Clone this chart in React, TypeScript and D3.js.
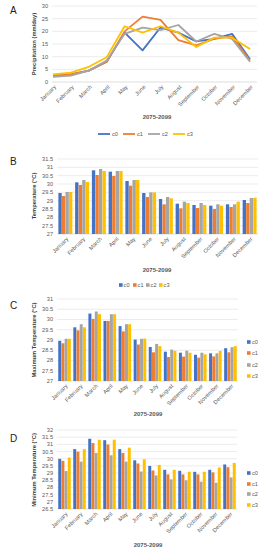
import React, { useEffect, useRef } from 'react';
import * as d3 from 'd3';

const months = ['January', 'February', 'March', 'April', 'May', 'June', 'July', 'August', 'September', 'October', 'November', 'December'];
const seriesNames = ['c0', 'c1', 'c2', 'c3'];
const seriesColors = ['#4472C4', '#ED7D31', '#A5A5A5', '#FFC000'];

// A: precipitation (mm/day)
const precipC0 = [2.5, 3, 4.5, 8, 19.5, 12.5, 21.5, 19.5, 16, 17, 19, 9];
const precipC1 = [2.5, 3, 4.5, 8, 20, 25.8, 24.5, 16.5, 14.5, 17, 18, 8.5];
const precipC2 = [2, 2.5, 4.5, 8.5, 19, 21.5, 20.5, 22.5, 16, 19, 17, 8];
const precipC3 = [3, 3.7, 6, 9.8, 22, 19.5, 22, 19.5, 13.8, 17.5, 17.5, 13];

// B: mean temperature
const tempC0 = [29.46, 30.1, 30.82, 30.74, 30.18, 29.46, 29.1, 28.82, 28.74, 28.7, 28.78, 29.04];
const tempC1 = [29.28, 29.94, 30.54, 30.48, 29.9, 29.22, 28.78, 28.54, 28.56, 28.5, 28.62, 28.86];
const tempC2 = [29.52, 30.24, 30.9, 30.78, 30.24, 29.5, 29.22, 28.94, 28.86, 28.78, 28.78, 29.16];
const tempC3 = [29.52, 30.12, 30.78, 30.78, 30.24, 29.5, 29.14, 28.86, 28.74, 28.7, 28.94, 29.18];

// C: maximum temperature
const maxC0 = [28.96, 29.62, 30.29, 29.93, 29.68, 29.02, 28.66, 28.43, 28.38, 28.28, 28.35, 28.6];
const maxC1 = [28.84, 29.47, 30.03, 29.93, 29.42, 28.78, 28.4, 28.17, 28.19, 28.14, 28.2, 28.4];
const maxC2 = [29.06, 29.77, 30.39, 30.26, 29.77, 29.06, 28.81, 28.53, 28.48, 28.38, 28.35, 28.65];
const maxC3 = [29.06, 29.62, 30.26, 30.26, 29.77, 29.07, 28.7, 28.47, 28.38, 28.3, 28.47, 28.7];

// D: minimum temperature
const minC0 = [29.99, 30.67, 31.39, 31.29, 30.67, 29.89, 29.5, 29.23, 29.16, 29.09, 29.23, 29.6];
const minC1 = [29.85, 30.49, 31.09, 30.99, 30.4, 29.67, 29.18, 28.91, 28.91, 28.91, 29.05, 29.41];
const minC2 = [29.14, 29.8, 30.4, 30.24, 29.8, 29.11, 28.84, 28.56, 28.5, 28.4, 28.33, 28.7];
const minC3 = [30.08, 30.67, 31.32, 31.32, 30.77, 29.96, 29.57, 29.23, 29.09, 29.09, 29.39, 29.71];

const periodLabel = '2075-2099';
const FONT = "'Liberation Sans', Arial, sans-serif";
const TXT = '#595959';

interface Panel {
  letter: string;
  letterY: number;
  kind: 'line' | 'bar';
  left: number;
  right: number;
  top: number;
  bottom: number;
  yMin: number;
  yMax: number;
  yStep: number;
  yTitle: string;
  yTitleMid: number;
  xTitle: [number, number];
  legend: 'lineRow' | 'boxRow' | 'boxCol';
  legendPos: number[];
  legendAt: number;
  data: number[][];
}

const panels: Panel[] = [
  {
    letter: 'A', letterY: 14, kind: 'line', left: 53, right: 250, top: 6, bottom: 82,
    yMin: 0, yMax: 30, yStep: 5, yTitle: 'Precipitation (mm/day)', yTitleMid: 44,
    xTitle: [157, 119], legend: 'lineRow', legendPos: [98, 123, 148, 173], legendAt: 134,
    data: [precipC0, precipC1, precipC2, precipC3],
  },
  {
    letter: 'B', letterY: 165, kind: 'bar', left: 57, right: 258, top: 159, bottom: 234,
    yMin: 27, yMax: 31.5, yStep: 0.5, yTitle: 'Temperature (°C)', yTitleMid: 196,
    xTitle: [157, 272], legend: 'boxRow', legendPos: [119, 133, 146, 159], legendAt: 285,
    data: [tempC0, tempC1, tempC2, tempC3],
  },
  {
    letter: 'C', letterY: 309, kind: 'bar', left: 57, right: 238, top: 299, bottom: 381,
    yMin: 27, yMax: 31, yStep: 0.5, yTitle: 'Maximum Temperature (°C)', yTitleMid: 340,
    xTitle: [148, 416], legend: 'boxCol', legendPos: [342, 353, 365, 376], legendAt: 247,
    data: [maxC0, maxC1, maxC2, maxC3],
  },
  {
    letter: 'D', letterY: 442, kind: 'bar', left: 57, right: 237, top: 430, bottom: 509,
    yMin: 26.5, yMax: 32, yStep: 0.5, yTitle: 'Minimum Temperature (°C)', yTitleMid: 470,
    xTitle: [148, 547], legend: 'boxCol', legendPos: [473, 484, 494, 505], legendAt: 247,
    data: [minC0, minC1, minC2, minC3],
  },
];

function drawPanel(svg: d3.Selection<SVGSVGElement, unknown, null, undefined>, p: Panel) {
  const g = svg.append('g').attr('font-family', FONT);
  const y = d3.scaleLinear().domain([p.yMin, p.yMax]).range([p.bottom, p.top]);
  const ticks = d3.range(p.yMin, p.yMax + p.yStep / 2, p.yStep);
  const gridRight = p.kind === 'line' ? 257 : p.right;
  const gridLeft = p.kind === 'line' ? 52 : p.left;

  g.selectAll('line.grid').data(ticks).enter().append('line')
    .attr('x1', gridLeft).attr('x2', gridRight)
    .attr('y1', d => y(d)).attr('y2', d => y(d))
    .attr('stroke', (d, i) => (i === 0 ? '#d0d0d0' : '#e4e4e4')).attr('stroke-width', 0.7);

  g.selectAll('text.ytick').data(ticks).enter().append('text')
    .attr('x', gridLeft - 4).attr('y', d => y(d)).attr('dy', '0.35em')
    .attr('text-anchor', 'end').attr('font-size', 5.6).attr('fill', TXT)
    .text(d => d3.format('~g')(d));

  let xc: (m: string) => number;
  if (p.kind === 'line') {
    const x = d3.scalePoint().domain(months).range([p.left, p.right]);
    xc = m => x(m)!;
    const line = d3.line<number>().x((d, i) => x(months[i])!).y(d => y(d));
    p.data.forEach((s, k) => {
      g.append('path').datum(s).attr('d', line).attr('fill', 'none')
        .attr('stroke', seriesColors[k]).attr('stroke-width', 1.8)
        .attr('stroke-linejoin', 'round');
    });
  } else {
    const x = d3.scaleBand().domain(months).range([p.left, p.right]).paddingInner(0.14).paddingOuter(0.07);
    const xs = d3.scaleBand().domain(seriesNames).range([0, x.bandwidth()]).padding(0.06);
    xc = m => x(m)! + x.bandwidth() / 2;
    months.forEach((m, i) => {
      p.data.forEach((s, k) => {
        g.append('rect')
          .attr('x', x(m)! + xs(seriesNames[k])!)
          .attr('y', y(s[i]))
          .attr('width', xs.bandwidth())
          .attr('height', y(p.yMin) - y(s[i]))
          .attr('fill', seriesColors[k]);
      });
    });
  }

  g.selectAll('text.xtick').data(months).enter().append('text')
    .attr('transform', d => `translate(${xc(d) + 2},${p.bottom + 4}) rotate(-45)`)
    .attr('text-anchor', 'end').attr('dy', '0.35em').attr('font-size', 5.6).attr('fill', TXT)
    .text(d => d);

  g.append('text')
    .attr('x', p.xTitle[0]).attr('y', p.xTitle[1])
    .attr('text-anchor', 'middle').attr('font-size', 6).attr('font-weight', 'bold').attr('fill', TXT)
    .text(periodLabel);

  g.append('text')
    .attr('transform', `translate(36,${p.yTitleMid}) rotate(-90)`)
    .attr('text-anchor', 'middle').attr('font-size', 5.8).attr('font-weight', 'bold').attr('fill', '#404040')
    .text(p.yTitle);

  g.append('text')
    .attr('x', 10).attr('y', p.letterY)
    .attr('font-size', 10).attr('fill', '#222')
    .text(p.letter);

  // legend
  seriesNames.forEach((name, k) => {
    if (p.legend === 'lineRow') {
      const lx = p.legendPos[k];
      g.append('line').attr('x1', lx).attr('x2', lx + 12)
        .attr('y1', p.legendAt).attr('y2', p.legendAt)
        .attr('stroke', seriesColors[k]).attr('stroke-width', 1.8);
      g.append('text').attr('x', lx + 14).attr('y', p.legendAt).attr('dy', '0.35em')
        .attr('font-size', 5.6).attr('fill', TXT).text(name);
    } else if (p.legend === 'boxRow') {
      const lx = p.legendPos[k];
      g.append('rect').attr('x', lx).attr('y', p.legendAt - 1.8).attr('width', 3.6).attr('height', 3.6)
        .attr('fill', seriesColors[k]);
      g.append('text').attr('x', lx + 4.6).attr('y', p.legendAt).attr('dy', '0.35em')
        .attr('font-size', 5.6).attr('fill', TXT).text(name);
    } else {
      const ly = p.legendPos[k];
      g.append('rect').attr('x', p.legendAt).attr('y', ly - 1.8).attr('width', 3.6).attr('height', 3.6)
        .attr('fill', seriesColors[k]);
      g.append('text').attr('x', p.legendAt + 5).attr('y', ly).attr('dy', '0.35em')
        .attr('font-size', 5.6).attr('fill', TXT).text(name);
    }
  });
}

export default function App() {
  const ref = useRef<SVGSVGElement>(null);

  useEffect(() => {
    if (!ref.current) return;
    const svg = d3.select(ref.current);
    svg.selectAll('*').remove();
    panels.forEach(p => drawPanel(svg, p));
  }, []);

  return (
    <svg ref={ref} width={262} height={550}
      style={{ position: 'absolute', left: 0, top: 0, background: '#fff' }} />
  );
}
